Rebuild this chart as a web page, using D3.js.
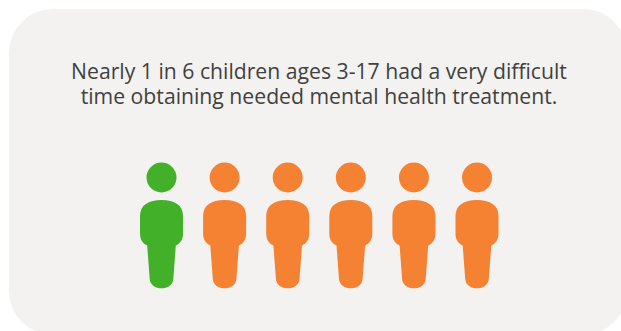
<!DOCTYPE html>
<html>
<head>
<meta charset="utf-8">
<script src="https://cdn.jsdelivr.net/npm/d3@7/dist/d3.min.js"></script>
<style>
  html, body { margin: 0; padding: 0; background: #fff; overflow: hidden; }
  text { font-family: "Open Sans", sans-serif; }
</style>
</head>
<body>
<div id="chart"></div>
<script>
// One figure per child in the group of six; the first group is the "1 in 6".
const headlineLines = [
  "Nearly 1 in 6 children ages 3-17 had a very difficult",
  "time obtaining needed mental health treatment."
];
const childIndex = [0, 1, 2, 3, 4, 5];
const affectedCount = [1];
const groupColors = ["#43b02a", "#f58233"];

const width = 621, height = 331;
const svg = d3.select("#chart").append("svg")
  .attr("width", width).attr("height", height)
  .style("display", "block");

// Rounded card, running slightly past the right and bottom edges
svg.append("rect")
  .attr("x", 9).attr("y", 9)
  .attr("width", 618).attr("height", 326)
  .attr("rx", 44).attr("ry", 44)
  .attr("fill", "#f3f2f0");

// Headline
svg.selectAll("text.headline")
  .data(headlineLines)
  .join("text")
  .attr("class", "headline")
  .attr("x", 319)
  .attr("y", (d, i) => 79 + i * 24.5)
  .attr("text-anchor", "middle")
  .attr("fill", "#41413e")
  .attr("font-size", 21.2)
  .text(d => d);

// Figure row
const x = d3.scalePoint().domain(childIndex).range([161.5, 477]);
const color = d => d < affectedCount[0] ? groupColors[0] : groupColors[1];

// Torso and leg outline, in local units around the figure's centre line
const bodyOutline = () => {
  const p = d3.path();
  p.moveTo(0, 200);
  p.bezierCurveTo(13, 200, 21.5, 205, 21.5, 216);
  p.lineTo(21.5, 234);
  p.bezierCurveTo(21.5, 240, 18, 244, 14.3, 245.5);
  p.lineTo(11.8, 279);
  p.bezierCurveTo(11.4, 285, 6, 288.3, 0, 288.3);
  p.bezierCurveTo(-6, 288.3, -11.4, 285, -11.8, 279);
  p.lineTo(-14.3, 245.5);
  p.bezierCurveTo(-18, 244, -21.5, 240, -21.5, 234);
  p.lineTo(-21.5, 216);
  p.bezierCurveTo(-21.5, 205, -13, 200, 0, 200);
  p.closePath();
  return p.toString();
};

const figures = svg.selectAll("g.figure")
  .data(childIndex)
  .join("g")
  .attr("class", "figure")
  .attr("transform", d => `translate(${x(d)},0)`)
  .attr("fill", color);

figures.append("circle").attr("cy", 177.5).attr("r", 15);
figures.append("path").attr("d", bodyOutline());
</script>
</body>
</html>
